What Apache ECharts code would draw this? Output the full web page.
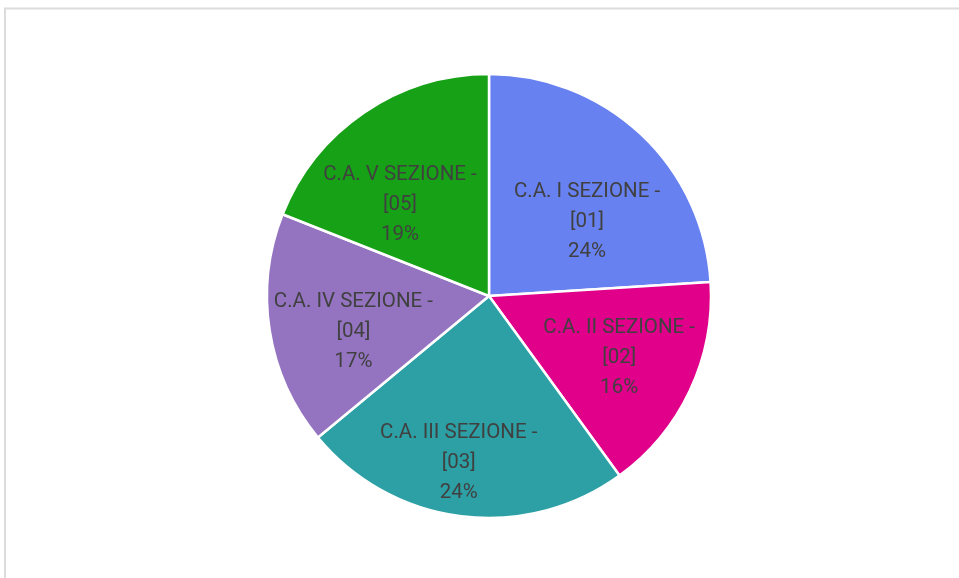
<!DOCTYPE html>
<html>
<head>
<meta charset="utf-8">
<script src="https://cdn.jsdelivr.net/npm/echarts@6/dist/echarts.min.js"></script>
<style>
  html, body { margin: 0; padding: 0; background: #fff; }
  #chart { width: 959px; height: 578px; }
</style>
</head>
<body>
<div id="chart"></div>
<script>
// dati del grafico
var categories = ["C.A. I SEZIONE - [01]", "C.A. II SEZIONE - [02]", "C.A. III SEZIONE - [03]", "C.A. IV SEZIONE - [04]", "C.A. V SEZIONE - [05]"];
var sectionNames = ["C.A. I SEZIONE -", "C.A. II SEZIONE -", "C.A. III SEZIONE -", "C.A. IV SEZIONE -", "C.A. V SEZIONE -"];
var codes = ["[01]", "[02]", "[03]", "[04]", "[05]"];
var values = [24, 16, 24, 17, 19];

var colors = ["#6781f0", "#e1008a", "#2ca0a5", "#9474c0", "#16a116"];
// spostamento etichette rispetto alla posizione "inside"
var labelOffsets = [[20, 9], [27, 13], [-16, 54], [-23, 18], [-25, 3]];

var chart = echarts.init(document.getElementById("chart"));

var pieData = values.map(function (v, i) {
    return {
        name: categories[i],
        value: v,
        itemStyle: { color: colors[i] },
        label: { offset: labelOffsets[i] }
    };
});

chart.setOption({
    backgroundColor: "#ffffff",
    animation: false,
    graphic: [
        {
            type: "polyline",
            shape: { points: [[5, 600], [5, 8.5], [1000, 8.5]] },
            style: { stroke: "#dcdcdc", lineWidth: 2, fill: null }
        }
    ],
    series: [
        {
            type: "pie",
            center: [489, 296],
            radius: [0, 222],
            startAngle: 90,
            clockwise: true,
            avoidLabelOverlap: false,
            itemStyle: {
                borderColor: "#ffffff",
                borderWidth: 2.5
            },
            label: {
                show: true,
                position: "inside",
                fontFamily: "Roboto",
                fontSize: 20.5,
                lineHeight: 30,
                color: "#404040",
                align: "center",
                formatter: function (p) {
                    return sectionNames[p.dataIndex] + "\n" + codes[p.dataIndex] + "\n" + Math.round(p.percent) + "%";
                }
            },
            labelLine: { show: false },
            emphasis: { disabled: true },
            data: pieData
        }
    ]
});
</script>
</body>
</html>
